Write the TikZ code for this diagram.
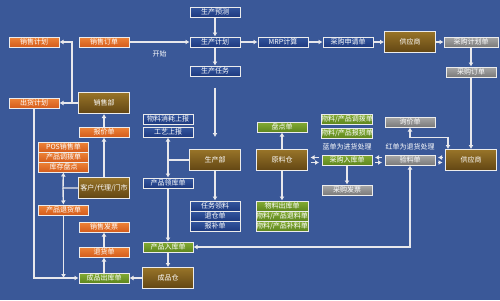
\documentclass[tikz,border=0pt]{standalone}
\usepackage{fontspec}
\setmainfont{Noto Sans CJK SC}
\usepackage{tikz}
\usetikzlibrary{arrows.meta,positioning}
\definecolor{bgblue}{RGB}{58,88,152}
\definecolor{boxline}{RGB}{236,236,236}
\definecolor{lineclr}{RGB}{232,232,236}
\definecolor{blueL}{RGB}{52,86,158}
\definecolor{blueD}{RGB}{30,58,128}
\definecolor{brownL}{RGB}{152,116,40}
\definecolor{brownD}{RGB}{98,70,20}
\definecolor{orangeL}{RGB}{238,132,56}
\definecolor{orangeD}{RGB}{212,92,28}
\definecolor{greenL}{RGB}{132,172,52}
\definecolor{greenD}{RGB}{94,134,30}
\definecolor{greyL}{RGB}{168,168,168}
\definecolor{greyD}{RGB}{122,122,122}
\tikzset{
  diagbox/.style={
    draw=boxline,
    line width=1pt,
    minimum width=50pt,
    minimum height=10pt,
    inner sep=0pt,
    text=white,
    font=\fontsize{7}{8}\selectfont
  },
  planbox/.style={diagbox, top color=blueL, bottom color=blueD},
  salebox/.style={diagbox, top color=orangeL, bottom color=orangeD},
  stockbox/.style={diagbox, top color=greenL, bottom color=greenD},
  buybox/.style={diagbox, top color=greyL, bottom color=greyD},
  deptbox/.style={diagbox, minimum width=51pt, minimum height=21pt,
    top color=brownL, bottom color=brownD},
  notetext/.style={text=white, inner sep=0pt, font=\fontsize{7}{8}\selectfont},
  flow/.style={-{Latex[length=4pt,width=5pt]}, line width=1.4pt, draw=lineclr},
  dflow/.style={{Latex[length=4pt,width=5pt]}-{Latex[length=4pt,width=5pt]},
    line width=1.4pt, draw=lineclr},
  pairflow/.style={flow, shorten <=2.5pt, shorten >=2.5pt}
}

\begin{document}
\begin{tikzpicture}[on grid]
\fill[bgblue] (0pt,0pt) rectangle (500pt,-300pt);

% planning row
\node[planbox] (scjh) at (215pt,-42pt) {生产计划};
\node[planbox, above=30pt of scjh] (scyc) {生产预测};
\node[planbox, below=29pt of scjh] (scrw) {生产任务};
\node[planbox, right=68pt of scjh] (mrp) {MRP计算};
\node[planbox, right=65pt of mrp] (cgsq) {采购申请单};
\node[deptbox, right=62pt of cgsq] (gys1) {供应商};
\node[buybox, right=61pt of gys1, minimum width=54pt] (cgjh) {采购计划单};
\node[buybox, below=30pt of cgjh] (cgdd) {采购订单};

% sales side
\node[salebox, left=111pt of scjh] (xsdd) {销售订单};
\node[salebox, left=70pt of xsdd] (xsjh) {销售计划};
\node[deptbox, below=61pt of xsdd] (xsb) {销售部};
\node[salebox, left=70pt of xsb] (chjh) {出货计划};
\node[salebox, below=29pt of xsb] (bjd) {报价单};
\node[salebox, below left=15pt and 40.5pt of bjd] (posd) {POS销售单};
\node[salebox, below=10pt of posd] (cpdb) {产品调拨单};
\node[salebox, below=10pt of cpdb] (kcpd) {库存盘点};
\node[deptbox, below=56pt of bjd] (kh) {客户/代理/门市};
\node[salebox, below=43pt of kcpd] (cpth) {产品退货单};
\node[salebox, below=39pt of kh] (xsfp) {销售发票};
\node[salebox, below=25pt of xsfp] (thd) {退货单};
\node[stockbox, below=26pt of thd] (cpck) {成品出库单};

% production
\node[deptbox, below=89pt of scrw] (scb) {生产部};
\node[planbox, below=46pt of scb] (rwll) {任务领料};
\node[planbox, below=10pt of rwll] (tcd) {退仓单};
\node[planbox, below=10pt of tcd] (bbd) {报补单};
\node[planbox, above left=28pt and 47pt of scb] (gysb) {工艺上报};
\node[planbox, above=13pt of gysb] (wlxh) {物料消耗上报};
\node[planbox, below=51pt of gysb] (cplk) {产品领库单};
\node[stockbox, below=64pt of cplk] (cprk) {产品入库单};
\node[deptbox, below=31pt of cprk] (cpc) {成品仓};

% warehouse and purchasing
\node[deptbox, right=67pt of scb] (ylc) {原料仓};
\node[stockbox, above=33pt of ylc] (pdd) {盘点单};
\node[stockbox, below=46pt of ylc, minimum width=52pt] (wlck) {物料出库单};
\node[stockbox, below=10pt of wlck, minimum width=52pt] (wltl) {物料/产品退料单};
\node[stockbox, below=10pt of wltl, minimum width=52pt] (wlbl) {物料/产品补料单};
\node[stockbox, right=65pt of ylc] (cgrk) {采购入库单};
\node[stockbox, above=27pt of cgrk] (wlbs) {物料/产品报损单};
\node[stockbox, above=14pt of wlbs] (wldb) {物料/产品调拨单};
\node[notetext, above=13pt of cgrk] (lan) {蓝单为进货处理};
\node[buybox, below=30pt of cgrk] (cgfp) {采购发票};
\node[buybox, right=63pt of cgrk] (yld) {验料单};
\node[notetext, above=13pt of yld] (hong) {红单为退货处理};
\node[buybox, above=38pt of yld] (xjd) {询价单};
\node[deptbox, right=61pt of yld] (gys2) {供应商};

% planning flow
\draw[flow] (scyc) -- (scjh);
\draw[flow] (scjh) -- (mrp);
\draw[flow] (mrp) -- (cgsq);
\draw[flow] (cgsq) -- (gys1);
\draw[flow] (gys1) -- (cgjh);
\draw[flow] (cgjh) -- (cgdd);
\draw[flow] (cgdd) -- (gys2);
\draw[flow] (scjh) -- (scrw);
\draw[flow] (xsdd) -- node[notetext, below=8pt] (ks) {开始} (scjh);

% sales flow
\draw[flow] (xsb.west) -- ++(-6pt,0) |- (xsjh);
\draw[flow] (xsb) -- (chjh);
\draw[flow] (bjd) -- (xsb);
\draw[flow] (kh) -- (bjd);
\draw[flow] (kh.west) -- ++(-15pt,0) coordinate (khj) -- (kcpd);
\draw[flow] (khj) -- (cpth);
\draw[flow] (chjh) |- (cpck);
\draw[flow] (cpth) -- (cpth |- cpck);
\draw[flow] (cpck) -- (thd);
\draw[flow] (thd) -- (xsfp);
\draw[flow] (cpc) -- (cpck);

% production flow
\draw[flow, shorten <=11pt, shorten >=12pt] (scrw) -- (scb);
\draw[flow] (scb) -- (rwll);
\draw[flow] (scb.west) -- ++(-21pt,0) coordinate (scbj) -- (gysb);
\draw[flow] (scbj) -- (cplk);
\draw[flow] (cplk) -- (cprk);
\draw[flow] (cprk) -- (cpc);
\draw[dflow] (yld) |- (cprk);

% warehouse flow
\draw[flow] (ylc) -- (pdd);
\draw[flow] (ylc) -- (wlck);
\draw[flow] (cgrk) -- (cgfp);
\draw[pairflow] ([yshift=2.5pt]cgrk.west) -- ([yshift=2.5pt]ylc.east);
\draw[pairflow] ([yshift=-2.5pt]ylc.east) -- ([yshift=-2.5pt]cgrk.west);
\draw[pairflow] ([yshift=2.5pt]yld.west) -- ([yshift=2.5pt]cgrk.east);
\draw[pairflow] ([yshift=-2.5pt]cgrk.east) -- ([yshift=-2.5pt]yld.west);
\draw[pairflow] ([yshift=2.5pt]gys2.west) -- ([yshift=2.5pt]yld.east);
\draw[pairflow] ([yshift=-2.5pt]yld.east) -- ([yshift=-2.5pt]gys2.west);
\draw[dflow] (xjd.south) -- ++(0,-10pt) -| ([xshift=3pt]gys2.north west);
\end{tikzpicture}
\end{document}
